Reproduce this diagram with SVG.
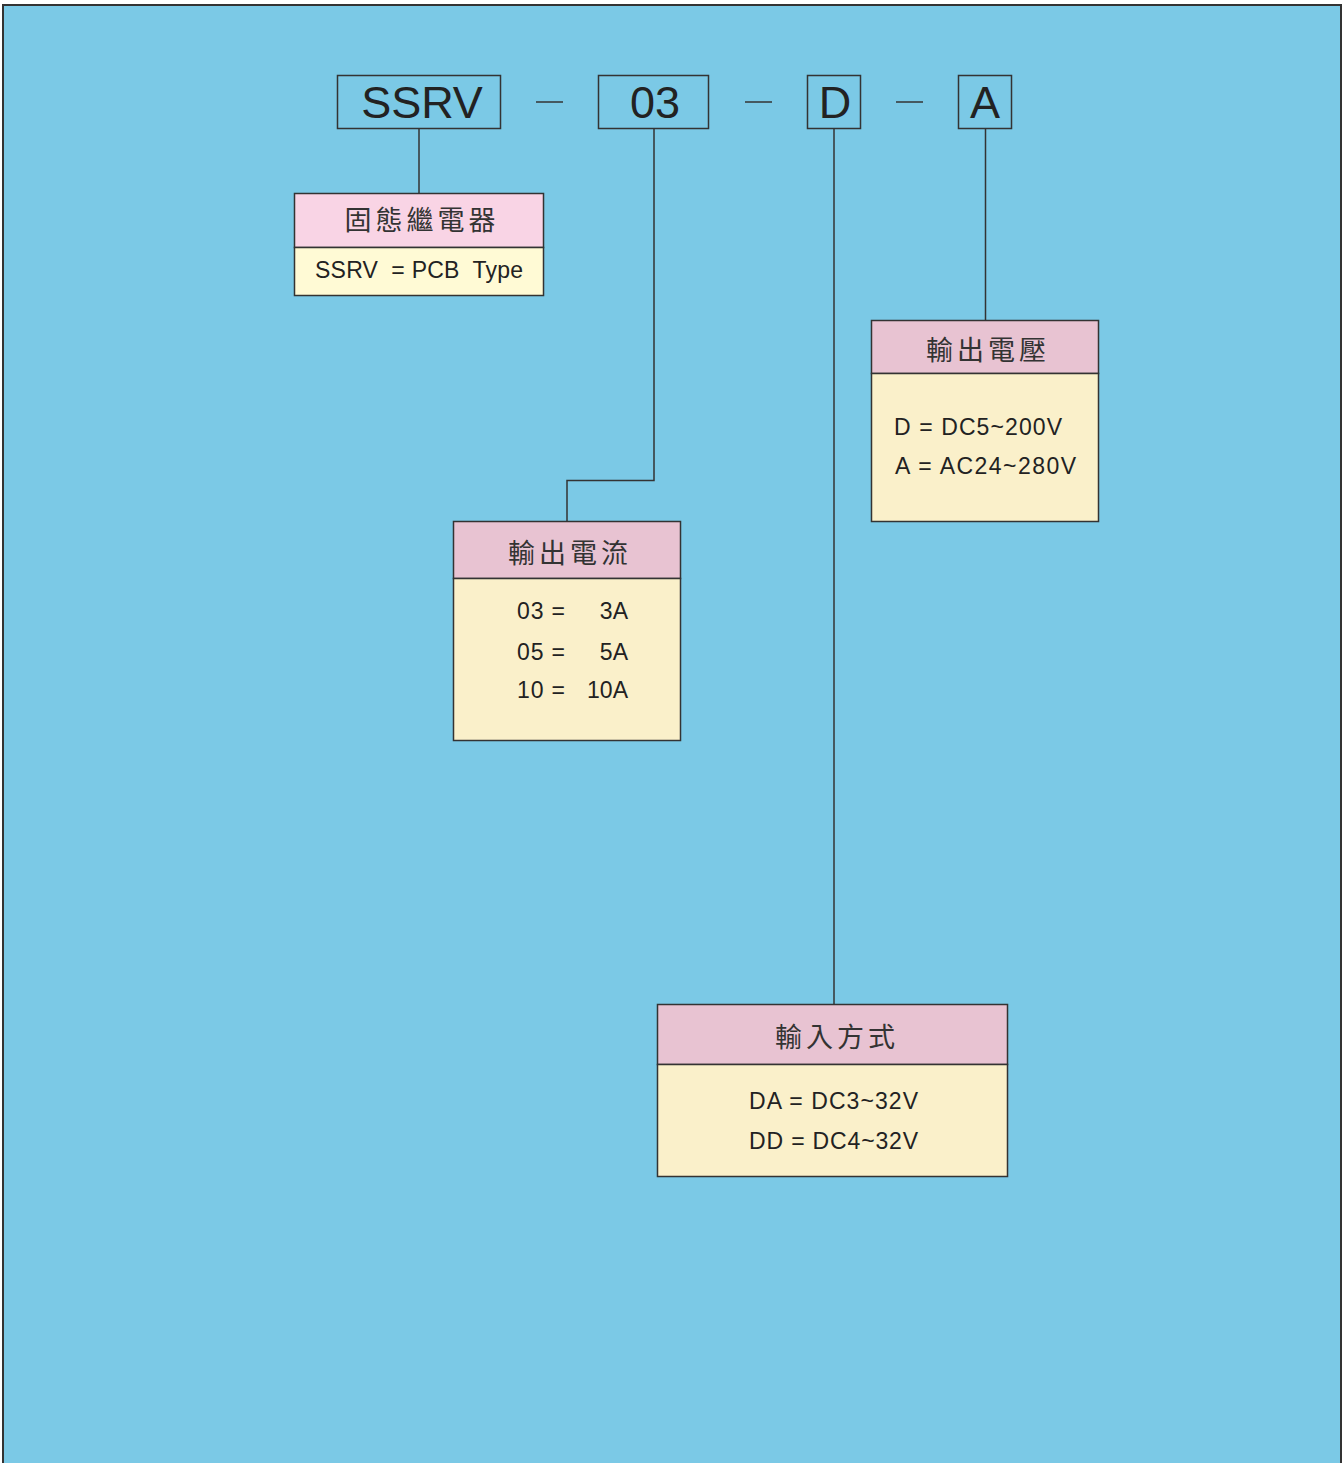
<svg xmlns="http://www.w3.org/2000/svg" width="1343" height="1463" viewBox="0 0 1343 1463">
<style>
.bg{fill:#7BC9E6;stroke:#333;stroke-width:2}
.code{fill:none;stroke:#333;stroke-width:1.5}
.codet{font-family:"Liberation Sans",Arial,sans-serif;font-size:45px;fill:#222;text-anchor:middle}
.dash{stroke:#333;stroke-width:1.5}
.conn{fill:none;stroke:#333;stroke-width:1.5}
.box{stroke:#333;stroke-width:1.5}
.hd{fill:#E8C3D2}
.bd{fill:#FAF0CA}
.title{font-family:"Noto Sans CJK TC","Noto Sans CJK SC",sans-serif;font-size:27px;fill:#333;text-anchor:middle;letter-spacing:4px}
.tx{font-family:"Liberation Sans",Arial,sans-serif;font-size:23px;fill:#222}
</style>
<rect class="bg" x="3" y="5" width="1338" height="1470"/>
<g id="codes">
<rect class="code" x="337.5" y="75.5" width="163" height="53"/>
<text class="codet" x="422" y="118">SSRV</text>
<line class="dash" x1="536" y1="102" x2="563" y2="102"/>
<rect class="code" x="598.5" y="75.5" width="110" height="53"/>
<text class="codet" x="655" y="118">03</text>
<line class="dash" x1="745" y1="102" x2="772" y2="102"/>
<rect class="code" x="807.5" y="75.5" width="53" height="53"/>
<text class="codet" x="835" y="118">D</text>
<line class="dash" x1="896" y1="102" x2="923" y2="102"/>
<rect class="code" x="958.5" y="75.5" width="53" height="53"/>
<text class="codet" x="985" y="118">A</text>
</g>
<g id="connectors">
<path class="conn" d="M419 129V193"/>
<path class="conn" d="M654 129V480.5H567V521"/>
<path class="conn" d="M834 129V1004"/>
<path class="conn" d="M985.5 129V320"/>
</g>
<g id="node-relay">
<rect class="box" x="294.5" y="193.5" width="249" height="54" fill="#F9D4E5"/>
<rect class="box" x="294.5" y="247.5" width="249" height="48" fill="#FFFAD5"/>
<text class="title" x="422" y="230">固態繼電器</text>
<text class="tx" x="315" y="278" xml:space="preserve" textLength="208" lengthAdjust="spacing">SSRV  = PCB  Type</text>
</g>
<g id="node-current">
<rect class="box hd" x="453.5" y="521.5" width="227" height="57"/>
<rect class="box bd" x="453.5" y="578.5" width="227" height="162"/>
<text class="title" x="570" y="563">輸出電流</text>
<text class="tx" x="517" y="619" textLength="48" lengthAdjust="spacing">03 =</text>
<text class="tx" x="628" y="619" text-anchor="end">3A</text>
<text class="tx" x="517" y="660" textLength="48" lengthAdjust="spacing">05 =</text>
<text class="tx" x="628" y="660" text-anchor="end">5A</text>
<text class="tx" x="517" y="698" textLength="48" lengthAdjust="spacing">10 =</text>
<text class="tx" x="628" y="698" text-anchor="end">10A</text>
</g>
<g id="node-voltage">
<rect class="box hd" x="871.5" y="320.5" width="227" height="53"/>
<rect class="box bd" x="871.5" y="373.5" width="227" height="148"/>
<text class="title" x="988" y="360">輸出電壓</text>
<text class="tx" x="894" y="435" textLength="168" lengthAdjust="spacing">D = DC5~200V</text>
<text class="tx" x="895" y="474" textLength="181" lengthAdjust="spacing">A = AC24~280V</text>
</g>
<g id="node-input">
<rect class="box hd" x="657.5" y="1004.5" width="350" height="60"/>
<rect class="box bd" x="657.5" y="1064.5" width="350" height="112"/>
<text class="title" x="837" y="1047">輸入方式</text>
<text class="tx" x="749" y="1109" textLength="169" lengthAdjust="spacing">DA = DC3~32V</text>
<text class="tx" x="749" y="1149" textLength="169" lengthAdjust="spacing">DD = DC4~32V</text>
</g>
</svg>
